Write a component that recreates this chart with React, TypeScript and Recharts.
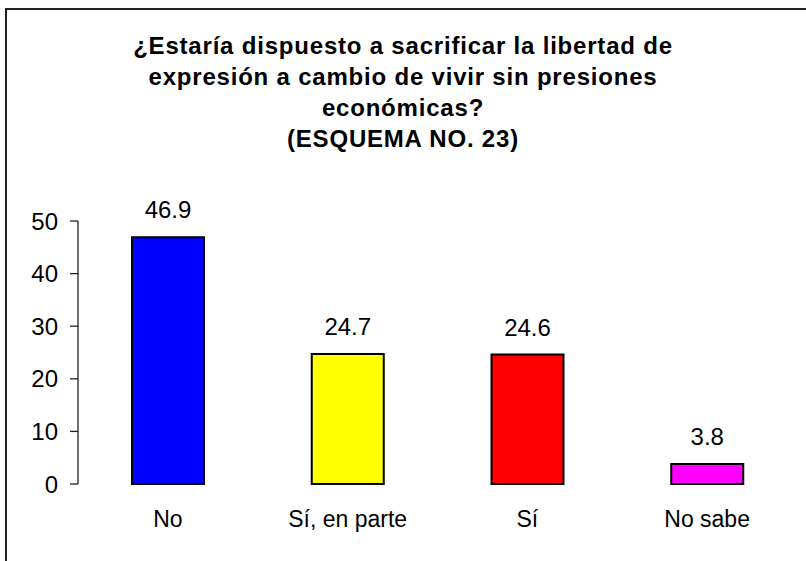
import React from 'react';
import { BarChart, Bar, XAxis, YAxis, Cell, LabelList } from 'recharts';

const categories = ['No', 'Sí, en parte', 'Sí', 'No sabe'];
const values = [46.9, 24.7, 24.6, 3.8];
const colors = ['#0000FF', '#FFFF00', '#FF0000', '#FF00FF'];
const yTicks = [0, 10, 20, 30, 40, 50];
const boundaryTicks = [0, 1, 2, 3, 4];
const titleLines = [
  '¿Estaría dispuesto a sacrificar la libertad de',
  'expresión a cambio de vivir sin presiones',
  'económicas?',
  '(ESQUEMA NO. 23)',
];

const data = categories.map((c, i) => ({ name: c, value: values[i] }));
const FONT = '"Liberation Sans", Arial, sans-serif';

export default function App() {
  return (
    <div style={{ position: 'absolute', left: 0, top: 0, width: 806, height: 561, background: '#fff', overflow: 'hidden' }}>
      <div style={{ position: 'absolute', left: 5, top: 8, width: 830, height: 600, borderTop: '2px solid #222', borderLeft: '2px solid #222' }} />
      <div style={{ position: 'absolute', left: 0, top: 0 }}>
        <BarChart width={806} height={561} data={data} margin={{ top: 221, right: 9, left: 8, bottom: 37 }} barSize={72}>
          <XAxis
            xAxisId="grid"
            type="number"
            domain={[0, 4]}
            allowDataOverflow
            ticks={boundaryTicks}
            height={0}
            tickSize={7}
            tickFormatter={() => ''}
            axisLine={{ stroke: '#222', strokeWidth: 1.3 }}
            tickLine={{ stroke: '#222', strokeWidth: 1.3 }}
          />
          <XAxis
            xAxisId="cat"
            dataKey="name"
            axisLine={false}
            tickLine={false}
            tickSize={7}
            tickMargin={20}
            height={40}
            interval={0}
            tick={{ fill: '#000', fontSize: 23, fontFamily: FONT }}
          />
          <YAxis
            domain={[0, 50]}
            ticks={yTicks}
            width={70}
            tickSize={8}
            tickMargin={12}
            axisLine={{ stroke: '#222', strokeWidth: 1.3 }}
            tickLine={{ stroke: '#222', strokeWidth: 1.3 }}
            tick={{ fill: '#000', fontSize: 24, fontFamily: FONT }}
          />
          <Bar dataKey="value" xAxisId="cat" stroke="#000" strokeWidth={2} isAnimationActive={false}>
            {data.map((d, i) => (
              <Cell key={d.name} fill={colors[i]} />
            ))}
            <LabelList dataKey="value" position="top" offset={19} style={{ fill: '#000', fontSize: 24, fontFamily: FONT }} />
          </Bar>
        </BarChart>
      </div>
      <svg width={806} height={561} style={{ position: 'absolute', left: 0, top: 0, pointerEvents: 'none' }}>
        {titleLines.map((t, i) => (
          <text key={i} x={403} y={54 + i * 31} textAnchor="middle" fontFamily={FONT} fontWeight="bold" fontSize={24} letterSpacing={0.8} fill="#000">
            {t}
          </text>
        ))}
      </svg>
    </div>
  );
}
